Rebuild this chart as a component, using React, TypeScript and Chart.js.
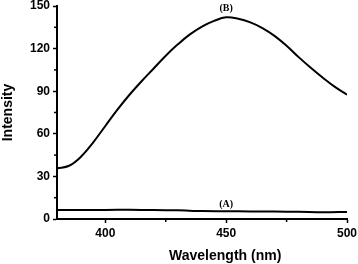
import React, { useEffect, useRef } from "react";
import { Chart, registerables } from "chart.js";

Chart.register(...registerables);

const wavelengthsB = [380, 385, 390, 395, 400, 405, 410, 415, 420, 425, 430, 435, 440, 445, 450, 455, 460, 465, 470, 475, 480, 485, 490, 495, 500];
const intensityB = [35.7, 37.5, 44, 54, 65.5, 77, 87.5, 97, 106, 115, 123, 130, 135.5, 139.5, 142, 141, 138.5, 134.5, 129, 122, 114, 106.5, 99.5, 93, 87.5];

const wavelengthsA = [380, 390, 400, 410, 420, 430, 440, 450, 460, 470, 480, 490, 500];
const intensityA = [6.3, 6.3, 6.4, 6.5, 6.3, 6.1, 5.6, 5.5, 5.3, 5.2, 5.1, 4.8, 5.0];

const xMajorTicks = [400, 450, 500];
const xMinorTicks = [425, 475];
const yMajorTicks = [0, 30, 60, 90, 120, 150];
const yMinorTicks = [15, 45, 75, 105, 135];

const curveLabels = ["(A)", "(B)"];
const curveLabelX = [450, 450];
const curveLabelY = [10.5, 148];

const xTitle = "Wavelength (nm)";
const yTitle = "Intensity";

const toPoints = (xs: number[], ys: number[]) => xs.map((x, i) => ({ x, y: ys[i] }));

export default function App() {
  const ref = useRef<HTMLCanvasElement>(null);
  useEffect(() => {
    document.body.style.margin = "0";
    const canvas = ref.current!;
    const minorTicksPlugin = {
      id: "minorTicks",
      afterDraw(chart: any) {
        const ctx = chart.ctx;
        const xs = chart.scales.x;
        const ys = chart.scales.y;
        const area = chart.chartArea;
        ctx.save();
        ctx.strokeStyle = "#000";
        ctx.lineWidth = 1.5;
        xMinorTicks.forEach((v) => {
          const px = xs.getPixelForValue(v);
          ctx.beginPath();
          ctx.moveTo(px, area.bottom);
          ctx.lineTo(px, area.bottom + 3);
          ctx.stroke();
        });
        yMinorTicks.forEach((v) => {
          const py = ys.getPixelForValue(v);
          ctx.beginPath();
          ctx.moveTo(area.left, py);
          ctx.lineTo(area.left - 3, py);
          ctx.stroke();
        });
        ctx.fillStyle = "#000";
        ctx.font = 'bold 10px "Liberation Serif"';
        ctx.textAlign = "center";
        ctx.textBaseline = "middle";
        curveLabels.forEach((t, i) => {
          ctx.fillText(t, xs.getPixelForValue(curveLabelX[i]), ys.getPixelForValue(curveLabelY[i]));
        });
        ctx.font = 'bold 14px "Liberation Sans", Arial';
        ctx.fillText(xTitle, area.left + (area.right - area.left) * 0.58, chart.height - 8);
        ctx.restore();
      },
    };
    const tickFont = { family: '"Liberation Sans", Arial', size: 12, weight: "bold" as const };
    const chart = new Chart(canvas, {
      type: "line",
      data: {
        datasets: [
          {
            data: toPoints(wavelengthsB, intensityB),
            borderColor: "#000",
            borderWidth: 2,
            pointRadius: 0,
            tension: 0.4,
            fill: false,
          },
          {
            data: toPoints(wavelengthsA, intensityA),
            borderColor: "#000",
            borderWidth: 2,
            pointRadius: 0,
            tension: 0.3,
            fill: false,
          },
        ],
      },
      options: {
        animation: false,
        responsive: false,
        layout: { padding: { top: 6, right: 11, left: 0, bottom: 0 } },
        plugins: { legend: { display: false }, tooltip: { enabled: false } },
        scales: {
          x: {
            type: "linear",
            min: 380,
            max: 500,
            afterBuildTicks: (scale: any) => {
              scale.ticks = xMajorTicks.map((v) => ({ value: v }));
            },
            afterFit: (scale: any) => {
              scale.height = 45;
              scale.paddingLeft = 0;
              scale.paddingRight = 0;
            },
            grid: { drawOnChartArea: false, drawTicks: true, tickLength: 4, tickColor: "#000", tickWidth: 1.5 },
            border: { display: true, color: "#000", width: 2 },
            ticks: { color: "#000", font: tickFont, padding: 3, maxRotation: 0 },
            title: { display: false },
          },
          y: {
            min: 0,
            max: 150,
            afterBuildTicks: (scale: any) => {
              scale.ticks = yMajorTicks.map((v) => ({ value: v }));
            },
            afterFit: (scale: any) => {
              scale.width = 57;
              scale.paddingTop = 0;
              scale.paddingBottom = 0;
            },
            grid: { drawOnChartArea: false, drawTicks: true, tickLength: 4, tickColor: "#000", tickWidth: 1.5 },
            border: { display: true, color: "#000", width: 2 },
            ticks: { color: "#000", font: tickFont, padding: 3 },
            title: {
              display: true,
              text: yTitle,
              color: "#000",
              font: { family: '"Liberation Sans", Arial', size: 14, weight: "bold" },
              padding: 0,
            },
          },
        },
      },
      plugins: [minorTicksPlugin],
    });
    return () => chart.destroy();
  }, []);
  return (
    <div style={{ width: 358, height: 264 }}>
      <canvas ref={ref} width={358} height={264} />
    </div>
  );
}
